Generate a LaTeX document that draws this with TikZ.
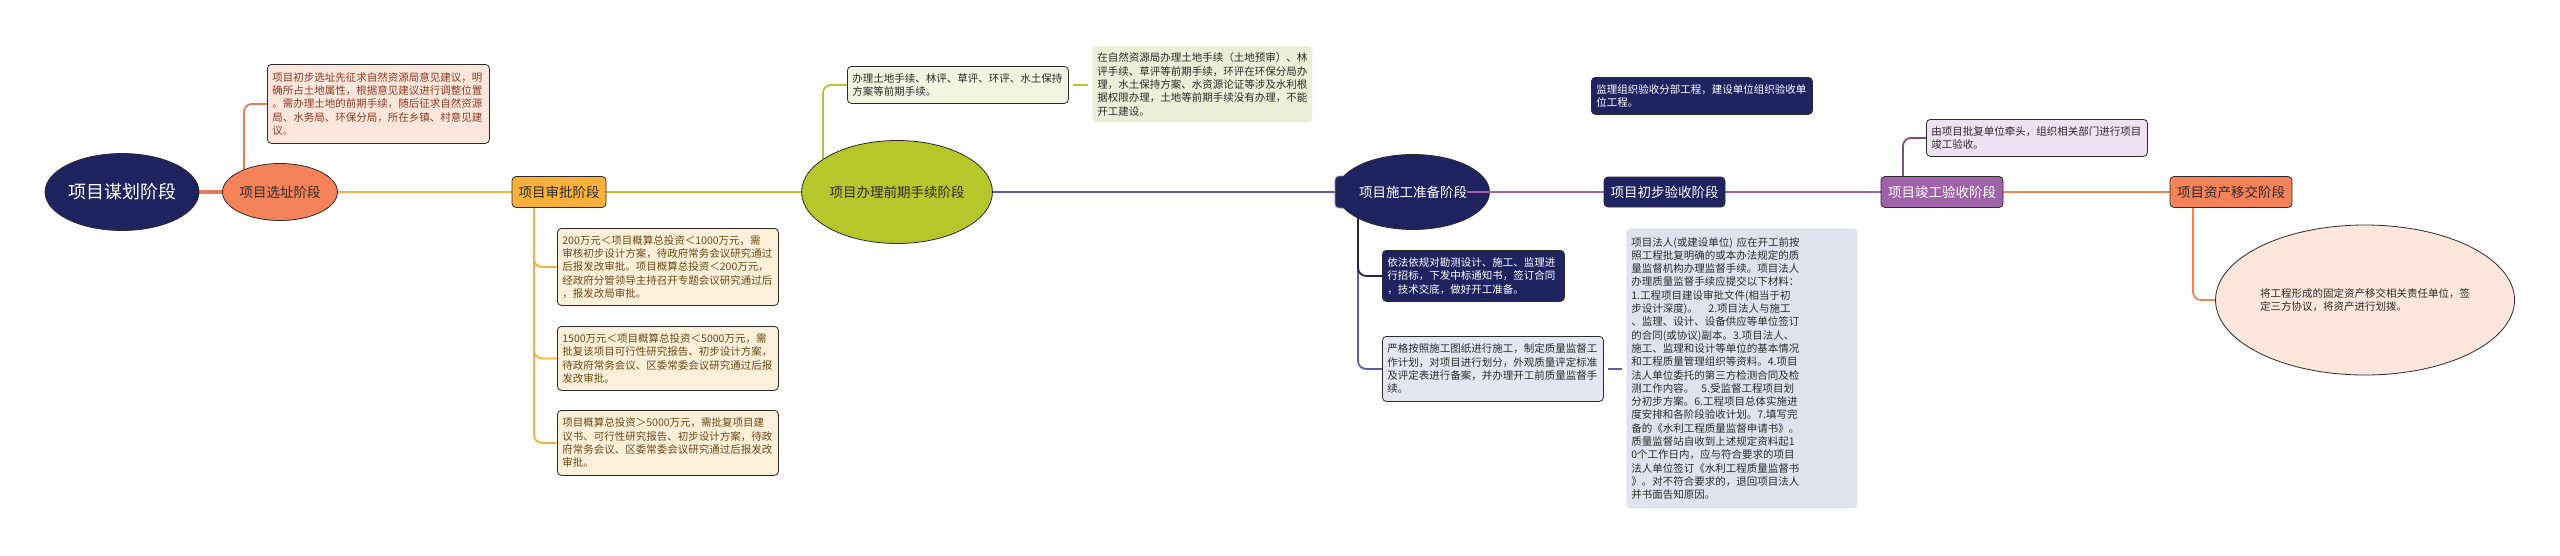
\documentclass[tikz,border=0pt]{standalone}
\usepackage{fontspec}
\setmainfont{Noto Sans CJK SC}
\usetikzlibrary{shapes.geometric,backgrounds}

\definecolor{navy}{HTML}{1F2461}
\definecolor{coral}{HTML}{F5835A}
\definecolor{salmon}{HTML}{E47A5E}
\definecolor{peach}{HTML}{FDE6DB}
\definecolor{amber}{HTML}{F9B13C}
\definecolor{cream}{HTML}{FDF0DB}
\definecolor{olive}{HTML}{B5C72B}
\definecolor{palegreen}{HTML}{F1F4DF}
\definecolor{sage}{HTML}{EBEFD7}
\definecolor{indigo}{HTML}{5C5CA8}
\definecolor{lavender}{HTML}{E6E6F2}
\definecolor{mist}{HTML}{E2E2EF}
\definecolor{plum}{HTML}{A062A8}
\definecolor{lilac}{HTML}{EEE1F1}
\definecolor{rust}{HTML}{8C3B22}
\definecolor{umber}{HTML}{6B4813}
\definecolor{ink}{HTML}{2B2B2B}

\tikzset{
  stage/.style={draw=ink, line width=0.8pt, font=\fontsize{13.5}{16}\selectfont, inner sep=0pt},
  oval/.style={stage, ellipse},
  tag/.style={stage, rectangle, rounded corners=4pt},
  note/.style={rectangle, rounded corners=4pt, draw=ink, line width=0.8pt, anchor=north west,
    align=left, inner xsep=5pt, inner ysep=5pt, font=\fontsize{10.5}{13.3}\selectfont},
  bare/.style={note, draw=none},
  link/.style={line width=2.6pt},
  twig/.style={line width=1.8pt, rounded corners=8pt},
}

\begin{document}
\begin{tikzpicture}[x=1pt,y=-1pt]
  \useasboundingbox (0,0) rectangle (2560,555);
  % main stages
  \node[oval, fill=navy, text=white, minimum width=154pt, minimum height=77pt,
    font=\fontsize{18}{20}\selectfont] (root) at (122,192) {项目谋划阶段};
  \node[oval, fill=coral, text=ink, minimum width=115pt, minimum height=57pt] (xuanzhi) at (280,192) {项目选址阶段};
  \node[tag, fill=amber, text=ink, minimum width=94pt, minimum height=31pt] (shenpi) at (559,192) {项目审批阶段};
  \node[oval, fill=olive, text=ink, minimum width=190pt, minimum height=103pt] (qianqi) at (897,192) {项目办理前期手续阶段};
  \node[tag, fill=navy, draw=indigo!70, minimum width=95pt, minimum height=32pt] (sgtab) at (1382.5,192) {};
  \node[oval, fill=navy, minimum width=153pt, minimum height=75pt] (shigong) at (1413,192) {};
  \node[text=white, inner sep=0pt, font=\fontsize{13.5}{16}\selectfont] (sgtext) at (1413,192) {项目施工准备阶段};
  \node[tag, fill=navy, text=white, minimum width=121pt, minimum height=30pt] (chubu) at (1664.5,192) {项目初步验收阶段};
  \node[tag, fill=plum, text=white, minimum width=122pt, minimum height=31pt] (jungong) at (1942,192) {项目竣工验收阶段};
  \node[tag, fill=coral, text=ink, minimum width=122pt, minimum height=31pt] (zichan) at (2231,192) {项目资产移交阶段};

  % xuanzhi
  \node[note, fill=peach, text=rust, text width=212pt, minimum height=79pt] (xzA) at (267,64)
    {项目初步选址先征求自然资源局意见建议，明\\确所占土地属性，根据意见建议进行调整位置\\。需办理土地的前期手续，随后征求自然资源\\局、水务局、环保分局，所在乡镇、村意见建\\议。};

  % shenpi
  \node[note, fill=cream, text=umber, text width=211pt, minimum height=77pt] (spA) at (557,228)
    {200万元＜项目概算总投资＜1000万元，需\\审核初步设计方案，待政府常务会议研究通过\\后报发改审批。项目概算总投资＜200万元，\\经政府分管领导主持召开专题会议研究通过后\\，报发改局审批。};
  \node[note, fill=cream, text=umber, text width=211pt, minimum height=64pt] (spB) at (557,326)
    {1500万元＜项目概算总投资＜5000万元，需\\批复该项目可行性研究报告、初步设计方案，\\待政府常务会议、区委常委会议研究通过后报\\发改审批。};
  \node[note, fill=cream, text=umber, text width=211pt, minimum height=65pt] (spC) at (557,410)
    {项目概算总投资＞5000万元，需批复项目建\\议书、可行性研究报告、初步设计方案，待政\\府常务会议、区委常委会议研究通过后报发改\\审批。};

  % qianqi
  \node[note, fill=palegreen, text=ink, text width=211pt, minimum height=37pt] (qqA) at (847,66)
    {办理土地手续、林评、草评、环评、水土保持\\方案等前期手续。};
  \node[bare, fill=sage, text=ink, text width=210pt, minimum height=76pt] (qqB) at (1092,46)
    {在自然资源局办理土地手续（土地预审）、林\\评手续、草评等前期手续，环评在环保分局办\\理，水土保持方案、水资源论证等涉及水利根\\据权限办理，土地等前期手续没有办理，不能\\开工建设。};

  % shigong
  \node[note, fill=navy, text=white, text width=172pt, minimum height=51pt] (sgA) at (1382,250)
    {依法依规对勘测设计、施工、监理进\\行招标，下发中标通知书，签订合同\\，技术交底，做好开工准备。};
  \node[note, fill=lavender, text=ink, text width=211pt, minimum height=65pt] (sgB) at (1382,336)
    {严格按照施工图纸进行施工，制定质量监督工\\作计划，对项目进行划分，外观质量评定标准\\及评定表进行备案，并办理开工前质量监督手\\续。};
  \node[bare, fill=mist, text=ink, text width=221pt, minimum height=280pt] (sgC) at (1626,228)
    {项目法人(或建设单位)~应在开工前按\\照工程批复明确的或本办法规定的质\\量监督机构办理监督手续。项目法人\\办理质量监督手续应提交以下材料：\\1.工程项目建设审批文件(相当于初\\步设计深度)。~~~2.项目法人与施工\\、监理、设计、设备供应等单位签订\\的合同(或协议)副本。3.项目法人、\\施工、监理和设计等单位的基本情况\\和工程质量管理组织等资料。4.项目\\法人单位委托的第三方检测合同及检\\测工作内容。~~5.受监督工程项目划\\分初步方案。6.工程项目总体实施进\\度安排和各阶段验收计划。7.填写完\\备的《水利工程质量监督申请书》。\\质量监督站自收到上述规定资料起1\\0个工作日内，应与符合要求的项目\\法人单位签订《水利工程质量监督书\\》。对不符合要求的，退回项目法人\\并书面告知原因。};

  % chubu
  \node[note, fill=navy, text=white, text width=211pt, minimum height=37pt] (jlA) at (1591,77)
    {监理组织验收分部工程，建设单位组织验收单\\位工程。};

  % jungong
  \node[note, fill=lilac, text=ink, text width=211pt, minimum height=37pt] (jgA) at (1926,119)
    {由项目批复单位牵头，组织相关部门进行项目\\竣工验收。};

  % zichan
  \node[oval, fill=peach, text=ink, minimum width=299pt, minimum height=150pt, align=left,
    font=\fontsize{10.5}{13.3}\selectfont] (zcA) at (2365,300)
    {将工程形成的固定资产移交相关责任单位，签\\定三方协议，将资产进行划拨。};

  \draw[link, line width=2pt, draw=plum] (sgtext.east) -- (chubu.west);

  \begin{scope}[on background layer]
    \draw[link, line width=3.4pt, draw=salmon] (root) -- (xuanzhi);
    \draw[link, draw=amber] (xuanzhi) -- (shenpi);
    \draw[link, draw=olive] (shenpi) -- (qianqi);
    \draw[link, draw=indigo] (qianqi) -- (shigong);
    \draw[link, line width=2pt, draw=plum] (chubu) -- (jungong);
    \draw[link, draw=coral] (jungong) -- (zichan);
    % branches
    \draw[twig, draw=salmon] ([xshift=-36pt]xuanzhi.center) |- (xzA.west);
    \draw[twig, draw=amber] ([xshift=-25pt]shenpi.center) |- (spA.west);
    \draw[twig, draw=amber] ([xshift=-25pt]shenpi.center) |- (spB.west);
    \draw[twig, draw=amber] ([xshift=-25pt]shenpi.center) |- (spC.west);
    \draw[twig, draw=olive] ([xshift=-74pt]qianqi.center) |- (qqA.west);
    \draw[twig, draw=olive, shorten <=4pt, shorten >=4pt] (qqA.east) -- (qqA.east -| qqB.west);
    \draw[twig, draw=indigo] ([xshift=-55pt]shigong.center) |- (sgB.west);
    \draw[twig, draw=navy] ([xshift=-55pt]shigong.center) |- (sgA.west);
    \draw[twig, draw=indigo, shorten <=4pt, shorten >=4pt] (sgB.east) -- (sgB.east -| sgC.west);
    \draw[twig, draw=plum!80!black] ([xshift=-39pt]jungong.center) |- (jgA.west);
    \draw[twig, draw=coral] ([xshift=-38pt]zichan.center) |- (zcA.west);
  \end{scope}
\end{tikzpicture}
\end{document}
